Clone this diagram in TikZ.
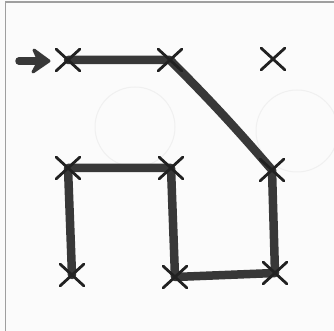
\documentclass[tikz,border=0pt]{standalone}
\usetikzlibrary{shapes.misc,arrows.meta,backgrounds}
\definecolor{pen}{rgb}{0.22,0.22,0.22}
\definecolor{ink}{rgb}{0.13,0.13,0.13}
\definecolor{paper}{rgb}{0.985,0.985,0.985}
\tikzset{
  xmark/.style={cross out,draw=ink,line width=2.8pt,line cap=round,inner sep=0pt,minimum width=21pt,minimum height=19pt},
  route/.style={draw=pen,line width=8.5pt,line join=round,line cap=round},
  shaft/.style={draw=pen,line width=7.5pt,line cap=round},
  headshape/.style={fill=pen,draw=pen,line width=3pt,line join=round},
  ghost/.style={draw=gray!12,line width=1pt},
  framing/.style={draw=gray!75,line width=1.2pt}
}
\begin{document}
\begin{tikzpicture}[x=1pt,y=1pt]
\useasboundingbox (0,0) rectangle (334,331);
\node[xmark] (a) at (68,271) {};
\node[xmark] (b) at (170,271) {};
\node[xmark] (c) at (273,272) {};
\node[xmark] (d) at (68,163) {};
\node[xmark] (e) at (171,163) {};
\node[xmark] (f) at (272,161) {};
\node[xmark] (g) at (72,56) {};
\node[xmark] (h) at (175,54) {};
\node[xmark] (i) at (275,58) {};
\coordinate (s) at (19,270);
\coordinate (tip) at (49,270);
\coordinate (notch) at (39,270);
\begin{pgfonlayer}{background}
\fill[paper] (0,0) rectangle (334,331);
\draw[framing] (5.5,0) -- (5.5,329) -- (334,329);
\draw[ghost] (135,204) circle (40);
\draw[ghost] (297,200) circle (41);
\draw[route] (a.center) -- (b.center) to[bend left=2] (f.center) -- (i.center) -- (h.center) -- (e.center) -- (d.center) -- (g.center);
\end{pgfonlayer}
\draw[shaft] (s) -- (notch);
\path[headshape] (tip) -- ++(-15,11) -- (notch) -- ++(-6,-11) -- cycle;
\end{tikzpicture}
\end{document}
